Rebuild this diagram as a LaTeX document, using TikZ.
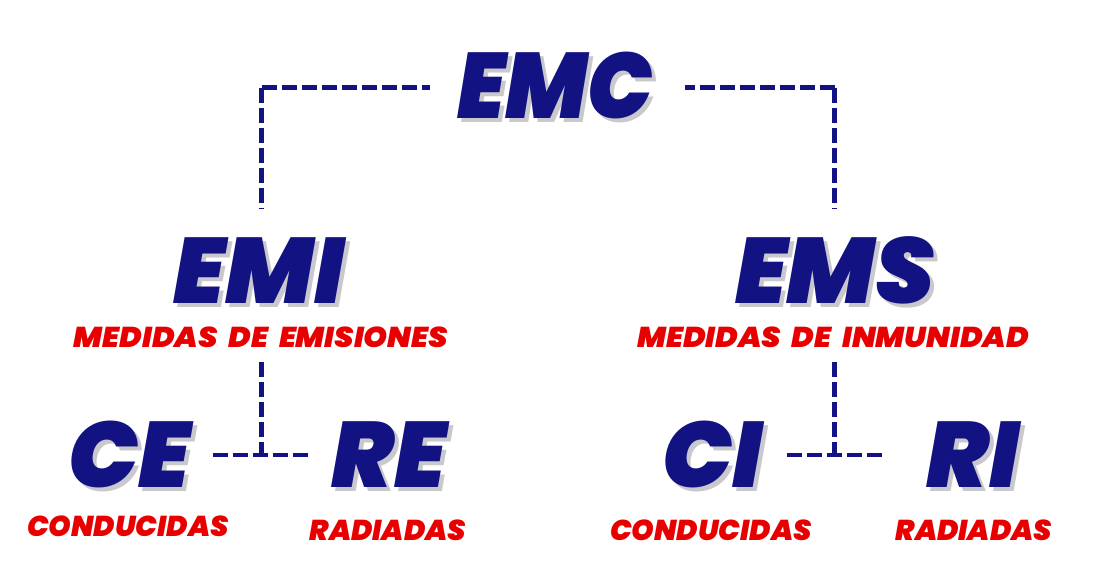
\documentclass[tikz,border=0pt]{standalone}
\usepackage{fontspec}
\newfontfamily\bigf{Poppins Black Italic}
\newfontfamily\labf{Poppins Black Italic}[WordSpace=2.1]
\definecolor{navy}{RGB}{18,18,130}
\definecolor{redt}{RGB}{232,0,0}
\definecolor{shade}{RGB}{200,200,205}
\begin{document}
\begin{tikzpicture}[x=1pt,y=-1pt,
  big/.style={inner sep=0pt, anchor=base, text=navy, font=\bigf\fontsize{93}{93}\selectfont},
  bigshadow/.style={inner sep=0pt, anchor=base, text=shade, font=\bigf\fontsize{93}{93}\selectfont},
  lab/.style={inner sep=0pt, anchor=base, text=redt, font=\labf\fontsize{28.7}{28.7}\selectfont},
  dl/.style={draw=navy, line width=4.6pt, dash pattern=on 15pt off 5pt}]
\useasboundingbox (0,0) rectangle (1102,573);
% drop shadows of the large letters
\node[bigshadow] at (559,122) {\scalebox{0.93}[1]{EMC}};
\node[bigshadow] at (263,307) {EMI};
\node[bigshadow] at (839,307) {EMS};
\node[bigshadow] at (133,491) {CE};
\node[bigshadow] at (393,491) {RE};
\node[bigshadow] at (716,491) {CI};
\node[bigshadow] at (977,491) {RI};
% large letters
\node[big] (emc) at (555,118) {\scalebox{0.93}[1]{EMC}};
\node[big] (emi) at (259,303) {EMI};
\node[big] (ems) at (835,303) {EMS};
\node[big] (ce) at (129,487) {CE};
\node[big] (re) at (389,487) {RE};
\node[big] (ci) at (712,487) {CI};
\node[big] (ri) at (973,487) {RI};
% red labels
\node[lab] (emis) at (261,347) {\scalebox{1.06}[1]{MEDIDAS DE EMISIONES}};
\node[lab] (inmu) at (833,347) {\scalebox{1.06}[1]{MEDIDAS DE INMUNIDAD}};
\node[lab] (cond1) at (128,536) {CONDUCIDAS};
\node[lab] (rad1) at (388,540) {RADIADAS};
\node[lab] (cond2) at (711,540) {CONDUCIDAS};
\node[lab] (rad2) at (974,540) {RADIADAS};
% connector coordinates
\coordinate (cl) at (261.5,87.5);
\coordinate (cr) at (834.5,87.5);
\coordinate (emcL) at (430,87.5);
\coordinate (emcR) at (685,87.5);
\coordinate (emiT) at (261.5,208);
\coordinate (emsT) at (834.5,208);
\coordinate (emiB) at (261.5,362);
\coordinate (emsB) at (834.5,362);
\coordinate (tl) at (261.5,455);
\coordinate (tr) at (834.5,455);
\coordinate (ceR) at (213,455);
\coordinate (reL) at (308,455);
\coordinate (ciR) at (787,455);
\coordinate (riL) at (882,455);
\draw[dl] (cl) -- (emcL);
\draw[dl] (cl) -- (emiT);
\draw[dl] (cr) -- (emcR);
\draw[dl] (cr) -- (emsT);
\draw[dl] (emiB) -- (tl);
\draw[dl] (ceR) -- (reL);
\draw[dl] (emsB) -- (tr);
\draw[dl] (ciR) -- (riL);
\end{tikzpicture}
\end{document}
